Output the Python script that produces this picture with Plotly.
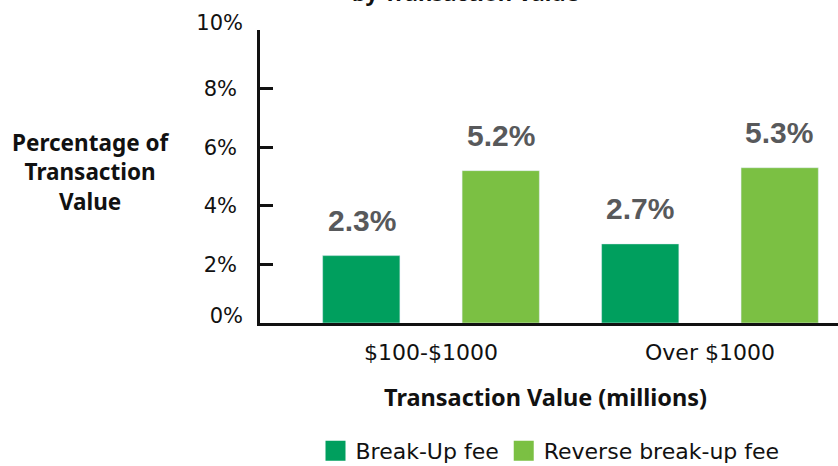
import plotly.graph_objects as go

categories = ["$100-$1000", "Over $1000"]
breakup_fee = [2.3, 2.7]
reverse_fee = [5.2, 5.3]
series_names = ["Break-Up fee", "Reverse break-up fee"]
y_ticks = [0, 2, 4, 6, 8, 10]
y_tick_labels = ["0%", "2%", "4%", "6%", "8%", "10%"]

DARK = "#009f5e"
LIGHT = "#7bc043"
LABEL = "#58595b"
FONT = "DejaVu Sans"
BOLD = "Noto Sans"
VALFONT = "Liberation Sans"

# inner tick labels are centred on ticks; the end labels (0% and 10%) sit a bit higher
inner_vals = [v for v in y_ticks if v not in (y_ticks[0], y_ticks[-1])]
inner_text = [t for v, t in zip(y_ticks, y_tick_labels) if v in inner_vals]
end_vals = [y_ticks[0], y_ticks[-1]]
end_text = [y_tick_labels[0], y_tick_labels[-1]]

fig = go.Figure()
fig.add_trace(go.Bar(x=categories, y=breakup_fee, name=series_names[0],
                     marker_color=DARK, showlegend=False))
fig.add_trace(go.Bar(x=categories, y=reverse_fee, name=series_names[1],
                     marker_color=LIGHT, showlegend=False))
# legend proxies with larger square swatches
for name, col in zip(series_names, [DARK, LIGHT]):
    fig.add_trace(go.Scatter(x=[None], y=[None], mode="markers", name=name, yaxis="y2",
                             marker=dict(symbol="square", size=16, color=col,
                                         line=dict(width=4, color=col))))

annotations = []
for vals, shift in [(breakup_fee, -69.5), (reverse_fee, 69.5)]:
    for c, v in zip(categories, vals):
        annotations.append(dict(x=c, y=v, xref="x", yref="y", text=f"<b>{v:.1f}%</b>",
                                showarrow=False, xshift=shift, yshift=35, yanchor="middle",
                                font=dict(family=VALFONT, size=30, color=LABEL)))

annotations.append(dict(x=(465 - 260) / 578, y=1 + 21 / 293, xref="paper", yref="paper",
                        text="<b>by Transaction Value</b>", showarrow=False,
                        yanchor="bottom", font=dict(family=BOLD, size=22, color="#111")))
annotations.append(dict(x=(90 - 260) / 578, y=(323 - 172) / 293, xref="paper", yref="paper",
                        text="<b>Percentage of<br>Transaction<br>Value</b>", showarrow=False,
                        xanchor="center", yanchor="middle", align="center",
                        font=dict(family=BOLD, size=22.5, color="#111")))
annotations.append(dict(x=(545 - 260) / 578, y=(323 - 397) / 293, xref="paper", yref="paper",
                        text="<b>Transaction Value (millions)</b>", showarrow=False,
                        xanchor="center", yanchor="middle",
                        font=dict(family=BOLD, size=23.5, color="#111")))

fig.update_layout(
    width=838, height=466,
    margin=dict(l=260, r=0, t=30, b=143, autoexpand=False),
    paper_bgcolor="white", plot_bgcolor="white",
    barmode="group", bargap=0.0, bargroupgap=0.446,
    font=dict(family=FONT, color="#111", size=22),
    annotations=annotations,
    legend=dict(orientation="h", x=(550 - 260) / 578, y=(323 - 451) / 293,
                xanchor="center", yanchor="middle", font=dict(family=FONT, size=22, color="#111"),
                itemsizing="trace"),
    xaxis=dict(range=[-0.613, 1.459], showgrid=False, zeroline=False,
               showline=True, linecolor="#111", linewidth=3,
               ticklabelstandoff=8,
               tickfont=dict(family=FONT, size=22, color="#111"), ticks=""),
    yaxis=dict(range=[0, 10], tickvals=inner_vals + end_vals, ticktext=inner_text + ["", ""],
               showgrid=False, zeroline=False, showline=True, linecolor="#111", linewidth=2.5,
               ticks="inside", ticklen=13, tickwidth=2.5, tickcolor="#111",
               ticklabelstandoff=16,
               tickfont=dict(family=FONT, size=21, color="#111")),
    yaxis2=dict(range=[0, 10], overlaying="y", side="left", tickvals=end_vals, ticktext=end_text,
                showgrid=False, zeroline=False, showline=False, ticks="",
                ticklabelstandoff=16, ticklabelshift=-7,
                tickfont=dict(family=FONT, size=21, color="#111")),
)

fig.write_html("out.html", config={"displayModeBar": False},
               post_script="document.body.style.margin='0';document.body.style.overflow='hidden';")
